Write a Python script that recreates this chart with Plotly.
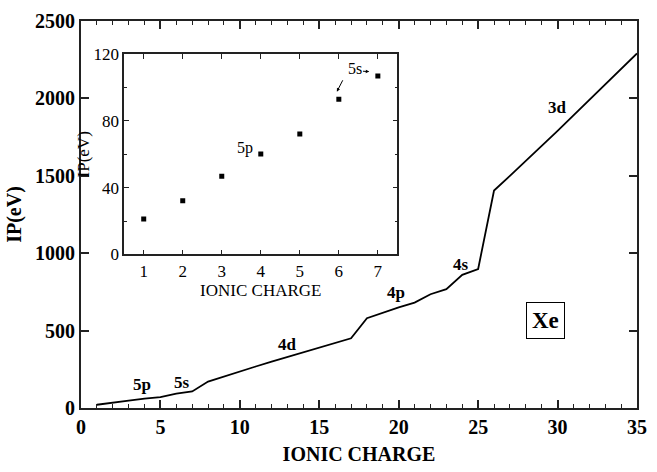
import plotly.graph_objects as go

# Main curve: ionization potential vs ionic charge for Xe
charge = list(range(1, 36))
ip_ev = [21, 32, 47, 60, 70, 93, 107, 171, 205, 237, 268, 299, 330, 361, 392, 421, 450,
         580, 616, 650, 681, 735, 768, 860, 898, 1405, 1500, 1595, 1690, 1790, 1890,
         1990, 2090, 2190, 2290]

# Inset: low charge states
inset_charge = [1, 2, 3, 4, 5, 6, 7]
inset_ip = [21.2, 32.1, 46.8, 60.2, 72.2, 93.0, 107.0]

# Shell labels on main curve
shell_labels = ["5p", "5s", "4d", "4p", "4s", "3d"]
shell_x = [3.85, 6.33, 12.97, 19.8, 23.9, 30.0]
shell_y = [155, 165, 413, 743, 928, 1943]

FONT = "Liberation Serif"
AX = "#222222"

fig = go.Figure()
fig.add_trace(go.Scatter(x=charge, y=ip_ev, mode="lines",
                         line=dict(color="black", width=1.8),
                         xaxis="x", yaxis="y", showlegend=False))
fig.add_trace(go.Scatter(x=inset_charge, y=inset_ip, mode="markers",
                         marker=dict(symbol="square", size=5, color="black"),
                         xaxis="x2", yaxis="y2", showlegend=False))

annotations = []
for t, x, y in zip(shell_labels, shell_x, shell_y):
    annotations.append(dict(x=x, y=y, xref="x", yref="y", text=t, showarrow=False,
                            font=dict(family=FONT, size=17, color="black", weight="bold")))
annotations.append(dict(x=29.27, y=568, xref="x", yref="y", text="Xe", showarrow=False,
                        font=dict(family=FONT, size=23, color="black", weight="bold"),
                        bordercolor="black", borderwidth=1, borderpad=5, bgcolor="white"))
# inset labels
annotations.append(dict(x=3.6, y=64, xref="x2", yref="y2", text="5p", showarrow=False,
                        font=dict(family=FONT, size=16, color="black")))
annotations.append(dict(x=6.42, y=111.5, xref="x2", yref="y2", text="5s", showarrow=False,
                        font=dict(family=FONT, size=16, color="black")))
annotations.append(dict(x=5.95, y=97.6, xref="x2", yref="y2", text="", showarrow=True,
                        ax=6.12, ay=105.3, axref="x2", ayref="y2",
                        arrowhead=2, arrowsize=0.7, arrowwidth=1, arrowcolor="black"))
annotations.append(dict(x=6.78, y=109.6, xref="x2", yref="y2", text="", showarrow=True,
                        ax=6.58, ay=109.9, axref="x2", ayref="y2",
                        arrowhead=2, arrowsize=0.7, arrowwidth=1, arrowcolor="black"))

fig.update_layout(
    width=657, height=472,
    margin=dict(l=81, r=10, t=17, b=50),
    paper_bgcolor="white", plot_bgcolor="white",
    font=dict(family=FONT, color="black"),
    annotations=annotations,
    xaxis=dict(domain=[0, 1], range=[0, 35], dtick=5, tick0=0,
               ticks="inside", ticklen=8, tickwidth=1.5, tickcolor=AX,
               minor=dict(dtick=1, ticks="inside", ticklen=4, tickcolor=AX, tickwidth=1),
               showline=True, linecolor=AX, linewidth=2, mirror="ticks",
               showgrid=False, zeroline=False,
               tickfont=dict(family=FONT, size=20, color="black", weight="bold"),
               title=dict(text="IONIC CHARGE", standoff=10,
                          font=dict(family=FONT, size=20, color="black", weight="bold"))),
    yaxis=dict(domain=[0, 1], range=[0, 2500], dtick=500, tick0=0,
               ticks="inside", ticklen=8, tickwidth=1.5, tickcolor=AX,
               showline=True, linecolor=AX, linewidth=2, mirror="ticks",
               showgrid=False, zeroline=False,
               tickfont=dict(family=FONT, size=20, color="black", weight="bold"),
               title=dict(text="IP(eV)", standoff=8,
                          font=dict(family=FONT, size=20, color="black", weight="bold"))),
    xaxis2=dict(domain=[0.0777, 0.569], anchor="y2", range=[0.5, 7.5], dtick=1, tick0=1,
                ticks="inside", ticklen=5, tickwidth=1, tickcolor=AX,
                showline=True, linecolor=AX, linewidth=1.5, mirror="ticks",
                showgrid=False, zeroline=False,
                tickfont=dict(family=FONT, size=17, color="black"),
                title=dict(text="IONIC CHARGE", standoff=4,
                           font=dict(family=FONT, size=17, color="black"))),
    yaxis2=dict(domain=[0.397, 0.914], anchor="x2", range=[0, 120], dtick=40, tick0=0,
                ticks="inside", ticklen=5, tickwidth=1, tickcolor=AX,
                minor=dict(dtick=20, ticks="inside", ticklen=3, tickcolor=AX, tickwidth=1),
                showline=True, linecolor=AX, linewidth=1.5, mirror="ticks",
                showgrid=False, zeroline=False,
                tickfont=dict(family=FONT, size=17, color="black"),
                title=dict(text="IP(eV)", standoff=0,
                           font=dict(family=FONT, size=17, color="black"))),
)

fig.write_html("out.html")
